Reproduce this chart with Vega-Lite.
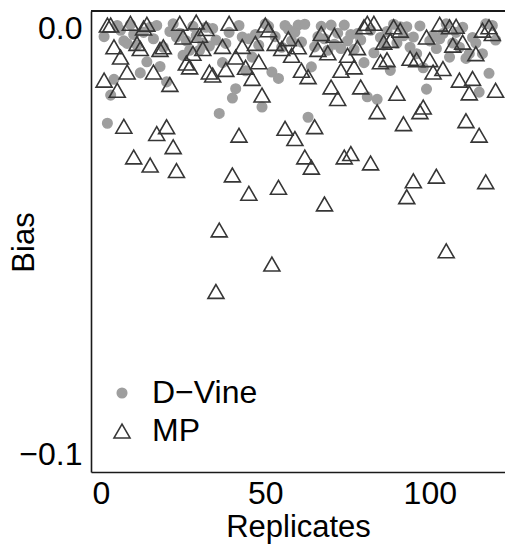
{
"$schema": "https://vega.github.io/schema/vega-lite/v6.json",
"width": 414, "height": 461,
"autosize": {"type": "none"},
"padding": {"left": 91, "top": 11, "right": 0, "bottom": 76},
"background": "white",
"config": {
  "view": {"stroke": null},
  "font": "Liberation Sans",
  "legend": {"orient": "none", "legendX": 15, "legendY": 366, "labelFontSize": 32, "labelFont": "Liberation Sans", "labelColor": "black", "rowPadding": 6, "labelOffset": 14, "padding": 0, "symbolStrokeWidth": 1.6, "labelLimit": 300}
},
"data": {"values": [
{"rep":1,"bias":-0.0020,"method":"D−Vine"},{"rep":2,"bias":-0.0223,"method":"D−Vine"},{"rep":3,"bias":-0.0157,"method":"D−Vine"},{"rep":4,"bias":-0.0120,"method":"D−Vine"},{"rep":5,"bias":0.0006,"method":"D−Vine"},{"rep":6,"bias":-0.0005,"method":"D−Vine"},{"rep":7,"bias":-0.0030,"method":"D−Vine"},{"rep":8,"bias":-0.0036,"method":"D−Vine"},{"rep":9,"bias":0.0008,"method":"D−Vine"},{"rep":10,"bias":-0.0015,"method":"D−Vine"},
{"rep":11,"bias":-0.0040,"method":"D−Vine"},{"rep":12,"bias":-0.0105,"method":"D−Vine"},{"rep":13,"bias":-0.0010,"method":"D−Vine"},{"rep":14,"bias":-0.0079,"method":"D−Vine"},{"rep":15,"bias":0.0002,"method":"D−Vine"},{"rep":16,"bias":-0.0025,"method":"D−Vine"},{"rep":17,"bias":0.0006,"method":"D−Vine"},{"rep":18,"bias":-0.0090,"method":"D−Vine"},{"rep":19,"bias":-0.0045,"method":"D−Vine"},{"rep":20,"bias":-0.0126,"method":"D−Vine"},
{"rep":21,"bias":-0.0008,"method":"D−Vine"},{"rep":22,"bias":0.0010,"method":"D−Vine"},{"rep":23,"bias":-0.0021,"method":"D−Vine"},{"rep":24,"bias":-0.0012,"method":"D−Vine"},{"rep":25,"bias":-0.0064,"method":"D−Vine"},{"rep":26,"bias":-0.0030,"method":"D−Vine"},{"rep":27,"bias":-0.0052,"method":"D−Vine"},{"rep":28,"bias":0.0004,"method":"D−Vine"},{"rep":29,"bias":-0.0018,"method":"D−Vine"},{"rep":30,"bias":-0.0052,"method":"D−Vine"},
{"rep":31,"bias":-0.0035,"method":"D−Vine"},{"rep":32,"bias":0.0002,"method":"D−Vine"},{"rep":33,"bias":-0.0042,"method":"D−Vine"},{"rep":34,"bias":-0.0001,"method":"D−Vine"},{"rep":35,"bias":-0.0028,"method":"D−Vine"},{"rep":36,"bias":-0.0200,"method":"D−Vine"},{"rep":37,"bias":-0.0081,"method":"D−Vine"},{"rep":38,"bias":-0.0036,"method":"D−Vine"},{"rep":39,"bias":-0.0010,"method":"D−Vine"},{"rep":40,"bias":-0.0164,"method":"D−Vine"},
{"rep":41,"bias":-0.0142,"method":"D−Vine"},{"rep":42,"bias":0.0006,"method":"D−Vine"},{"rep":43,"bias":-0.0021,"method":"D−Vine"},{"rep":44,"bias":-0.0100,"method":"D−Vine"},{"rep":45,"bias":-0.0025,"method":"D−Vine"},{"rep":46,"bias":-0.0068,"method":"D−Vine"},{"rep":47,"bias":-0.0015,"method":"D−Vine"},{"rep":48,"bias":-0.0040,"method":"D−Vine"},{"rep":49,"bias":-0.0185,"method":"D−Vine"},{"rep":50,"bias":0.0010,"method":"D−Vine"},
{"rep":51,"bias":0.0004,"method":"D−Vine"},{"rep":52,"bias":-0.0103,"method":"D−Vine"},{"rep":53,"bias":-0.0020,"method":"D−Vine"},{"rep":54,"bias":-0.0118,"method":"D−Vine"},{"rep":55,"bias":-0.0045,"method":"D−Vine"},{"rep":56,"bias":0.0006,"method":"D−Vine"},{"rep":57,"bias":-0.0003,"method":"D−Vine"},{"rep":58,"bias":-0.0030,"method":"D−Vine"},{"rep":59,"bias":-0.0010,"method":"D−Vine"},{"rep":60,"bias":0.0007,"method":"D−Vine"},
{"rep":61,"bias":-0.0033,"method":"D−Vine"},{"rep":62,"bias":0.0009,"method":"D−Vine"},{"rep":63,"bias":-0.0209,"method":"D−Vine"},{"rep":64,"bias":-0.0091,"method":"D−Vine"},{"rep":65,"bias":-0.0044,"method":"D−Vine"},{"rep":66,"bias":-0.0020,"method":"D−Vine"},{"rep":67,"bias":0.0004,"method":"D−Vine"},{"rep":68,"bias":-0.0025,"method":"D−Vine"},{"rep":69,"bias":-0.0052,"method":"D−Vine"},{"rep":70,"bias":0.0007,"method":"D−Vine"},
{"rep":71,"bias":-0.0038,"method":"D−Vine"},{"rep":72,"bias":-0.0012,"method":"D−Vine"},{"rep":73,"bias":-0.0048,"method":"D−Vine"},{"rep":74,"bias":0.0007,"method":"D−Vine"},{"rep":75,"bias":-0.0030,"method":"D−Vine"},{"rep":76,"bias":-0.0015,"method":"D−Vine"},{"rep":77,"bias":-0.0050,"method":"D−Vine"},{"rep":78,"bias":-0.0013,"method":"D−Vine"},{"rep":79,"bias":-0.0028,"method":"D−Vine"},{"rep":80,"bias":-0.0081,"method":"D−Vine"},
{"rep":81,"bias":-0.0161,"method":"D−Vine"},{"rep":82,"bias":-0.0005,"method":"D−Vine"},{"rep":83,"bias":-0.0058,"method":"D−Vine"},{"rep":84,"bias":-0.0167,"method":"D−Vine"},{"rep":85,"bias":-0.0022,"method":"D−Vine"},{"rep":86,"bias":-0.0040,"method":"D−Vine"},{"rep":87,"bias":-0.0008,"method":"D−Vine"},{"rep":88,"bias":-0.0099,"method":"D−Vine"},{"rep":89,"bias":0.0009,"method":"D−Vine"},{"rep":90,"bias":-0.0035,"method":"D−Vine"},
{"rep":91,"bias":0.0003,"method":"D−Vine"},{"rep":92,"bias":-0.0018,"method":"D−Vine"},{"rep":93,"bias":0.0003,"method":"D−Vine"},{"rep":94,"bias":-0.0045,"method":"D−Vine"},{"rep":95,"bias":-0.0021,"method":"D−Vine"},{"rep":96,"bias":-0.0060,"method":"D−Vine"},{"rep":97,"bias":0.0005,"method":"D−Vine"},{"rep":98,"bias":-0.0093,"method":"D−Vine"},{"rep":99,"bias":-0.0143,"method":"D−Vine"},{"rep":100,"bias":-0.0030,"method":"D−Vine"},
{"rep":101,"bias":-0.0017,"method":"D−Vine"},{"rep":102,"bias":-0.0048,"method":"D−Vine"},{"rep":103,"bias":-0.0025,"method":"D−Vine"},{"rep":104,"bias":-0.0013,"method":"D−Vine"},{"rep":105,"bias":0.0010,"method":"D−Vine"},{"rep":106,"bias":-0.0068,"method":"D−Vine"},{"rep":107,"bias":-0.0035,"method":"D−Vine"},{"rep":108,"bias":-0.0010,"method":"D−Vine"},{"rep":109,"bias":-0.0045,"method":"D−Vine"},{"rep":110,"bias":0.0002,"method":"D−Vine"},
{"rep":111,"bias":-0.0071,"method":"D−Vine"},{"rep":112,"bias":-0.0060,"method":"D−Vine"},{"rep":113,"bias":-0.0022,"method":"D−Vine"},{"rep":114,"bias":-0.0035,"method":"D−Vine"},{"rep":115,"bias":-0.0150,"method":"D−Vine"},{"rep":116,"bias":-0.0060,"method":"D−Vine"},{"rep":117,"bias":0.0010,"method":"D−Vine"},{"rep":118,"bias":-0.0106,"method":"D−Vine"},{"rep":119,"bias":0.0006,"method":"D−Vine"},{"rep":120,"bias":-0.0028,"method":"D−Vine"},
{"rep":1,"bias":-0.0122,"method":"MP"},{"rep":2,"bias":0.0007,"method":"MP"},{"rep":3,"bias":0.0007,"method":"MP"},{"rep":4,"bias":-0.0044,"method":"MP"},{"rep":5,"bias":-0.0146,"method":"MP"},{"rep":6,"bias":-0.0068,"method":"MP"},{"rep":7,"bias":-0.0230,"method":"MP"},{"rep":8,"bias":-0.0103,"method":"MP"},{"rep":9,"bias":0.0011,"method":"MP"},{"rep":10,"bias":-0.0302,"method":"MP"},
{"rep":11,"bias":-0.0036,"method":"MP"},{"rep":12,"bias":-0.0048,"method":"MP"},{"rep":13,"bias":0.0000,"method":"MP"},{"rep":14,"bias":0.0009,"method":"MP"},{"rep":15,"bias":-0.0321,"method":"MP"},{"rep":16,"bias":-0.0103,"method":"MP"},{"rep":17,"bias":-0.0247,"method":"MP"},{"rep":18,"bias":-0.0050,"method":"MP"},{"rep":19,"bias":-0.0044,"method":"MP"},{"rep":20,"bias":-0.0231,"method":"MP"},
{"rep":21,"bias":-0.0132,"method":"MP"},{"rep":22,"bias":-0.0278,"method":"MP"},{"rep":23,"bias":-0.0334,"method":"MP"},{"rep":24,"bias":0.0011,"method":"MP"},{"rep":25,"bias":-0.0021,"method":"MP"},{"rep":26,"bias":-0.0082,"method":"MP"},{"rep":27,"bias":-0.0091,"method":"MP"},{"rep":28,"bias":-0.0059,"method":"MP"},{"rep":29,"bias":0.0014,"method":"MP"},{"rep":30,"bias":-0.0017,"method":"MP"},
{"rep":31,"bias":-0.0048,"method":"MP"},{"rep":32,"bias":-0.0001,"method":"MP"},{"rep":33,"bias":-0.0103,"method":"MP"},{"rep":34,"bias":-0.0110,"method":"MP"},{"rep":35,"bias":-0.0617,"method":"MP"},{"rep":36,"bias":-0.0473,"method":"MP"},{"rep":37,"bias":-0.0043,"method":"MP"},{"rep":38,"bias":-0.0097,"method":"MP"},{"rep":39,"bias":0.0011,"method":"MP"},{"rep":40,"bias":-0.0344,"method":"MP"},
{"rep":41,"bias":-0.0068,"method":"MP"},{"rep":42,"bias":-0.0251,"method":"MP"},{"rep":43,"bias":-0.0043,"method":"MP"},{"rep":44,"bias":-0.0092,"method":"MP"},{"rep":45,"bias":-0.0387,"method":"MP"},{"rep":46,"bias":-0.0118,"method":"MP"},{"rep":47,"bias":-0.0036,"method":"MP"},{"rep":48,"bias":-0.0079,"method":"MP"},{"rep":49,"bias":-0.0157,"method":"MP"},{"rep":50,"bias":0.0007,"method":"MP"},
{"rep":51,"bias":-0.0004,"method":"MP"},{"rep":52,"bias":-0.0553,"method":"MP"},{"rep":53,"bias":-0.0036,"method":"MP"},{"rep":54,"bias":-0.0373,"method":"MP"},{"rep":55,"bias":-0.0048,"method":"MP"},{"rep":56,"bias":-0.0235,"method":"MP"},{"rep":57,"bias":-0.0025,"method":"MP"},{"rep":58,"bias":-0.0064,"method":"MP"},{"rep":59,"bias":-0.0259,"method":"MP"},{"rep":60,"bias":-0.0044,"method":"MP"},
{"rep":61,"bias":-0.0099,"method":"MP"},{"rep":62,"bias":-0.0302,"method":"MP"},{"rep":63,"bias":-0.0114,"method":"MP"},{"rep":64,"bias":-0.0326,"method":"MP"},{"rep":65,"bias":-0.0231,"method":"MP"},{"rep":66,"bias":-0.0050,"method":"MP"},{"rep":67,"bias":-0.0013,"method":"MP"},{"rep":68,"bias":-0.0412,"method":"MP"},{"rep":69,"bias":-0.0058,"method":"MP"},{"rep":70,"bias":-0.0138,"method":"MP"},
{"rep":71,"bias":-0.0017,"method":"MP"},{"rep":72,"bias":-0.0165,"method":"MP"},{"rep":73,"bias":-0.0099,"method":"MP"},{"rep":74,"bias":-0.0302,"method":"MP"},{"rep":75,"bias":-0.0064,"method":"MP"},{"rep":76,"bias":-0.0294,"method":"MP"},{"rep":77,"bias":-0.0091,"method":"MP"},{"rep":78,"bias":-0.0046,"method":"MP"},{"rep":79,"bias":-0.0138,"method":"MP"},{"rep":80,"bias":0.0003,"method":"MP"},
{"rep":81,"bias":0.0011,"method":"MP"},{"rep":82,"bias":-0.0316,"method":"MP"},{"rep":83,"bias":0.0011,"method":"MP"},{"rep":84,"bias":-0.0196,"method":"MP"},{"rep":85,"bias":-0.0079,"method":"MP"},{"rep":86,"bias":-0.0033,"method":"MP"},{"rep":87,"bias":-0.0074,"method":"MP"},{"rep":88,"bias":-0.0029,"method":"MP"},{"rep":89,"bias":0.0003,"method":"MP"},{"rep":90,"bias":-0.0153,"method":"MP"},
{"rep":91,"bias":-0.0005,"method":"MP"},{"rep":92,"bias":-0.0224,"method":"MP"},{"rep":93,"bias":-0.0395,"method":"MP"},{"rep":94,"bias":-0.0071,"method":"MP"},{"rep":95,"bias":-0.0358,"method":"MP"},{"rep":96,"bias":-0.0074,"method":"MP"},{"rep":97,"bias":-0.0196,"method":"MP"},{"rep":98,"bias":-0.0185,"method":"MP"},{"rep":99,"bias":-0.0021,"method":"MP"},{"rep":100,"bias":-0.0074,"method":"MP"},
{"rep":101,"bias":-0.0103,"method":"MP"},{"rep":102,"bias":-0.0347,"method":"MP"},{"rep":103,"bias":0.0009,"method":"MP"},{"rep":104,"bias":-0.0095,"method":"MP"},{"rep":105,"bias":-0.0522,"method":"MP"},{"rep":106,"bias":0.0003,"method":"MP"},{"rep":107,"bias":-0.0040,"method":"MP"},{"rep":108,"bias":0.0004,"method":"MP"},{"rep":109,"bias":-0.0122,"method":"MP"},{"rep":110,"bias":-0.0033,"method":"MP"},
{"rep":111,"bias":-0.0217,"method":"MP"},{"rep":112,"bias":-0.0152,"method":"MP"},{"rep":113,"bias":-0.0118,"method":"MP"},{"rep":114,"bias":-0.0060,"method":"MP"},{"rep":115,"bias":-0.0251,"method":"MP"},{"rep":116,"bias":-0.0005,"method":"MP"},{"rep":117,"bias":-0.0360,"method":"MP"},{"rep":118,"bias":0.0003,"method":"MP"},{"rep":119,"bias":-0.0013,"method":"MP"},{"rep":120,"bias":-0.0146,"method":"MP"}
]},
"layer": [
{
"mark": {"type": "point", "opacity": 1, "strokeWidth": 1.6},
"encoding": {
  "x": {"field": "rep", "type": "quantitative",
    "scale": {"domain": [-2.98, 122.86], "nice": false, "zero": false},
    "axis": {"values": [0, 50, 100], "title": "Replicates", "grid": false, "ticks": false, "domain": true, "domainColor": "#1a1a1a", "domainWidth": 1.6,
      "labelFontSize": 32, "labelFont": "Liberation Sans", "labelColor": "black", "labelPadding": 6, "labelFlush": false, "labelOverlap": false,
      "titleFontSize": 31, "titleFont": "Liberation Sans", "titleFontWeight": "normal", "titleColor": "black",
      "titleBaseline": "alphabetic", "titleX": 207, "titleY": 64, "titleAlign": "center"}},
  "y": {"field": "bias", "type": "quantitative",
    "scale": {"domain": [-0.104, 0.004], "nice": false, "zero": false},
    "axis": {"values": [-0.1, 0], "format": ".1f", "title": "Bias", "grid": false, "ticks": false, "domain": true, "domainColor": "#1a1a1a", "domainWidth": 1.6,
      "labelFontSize": 32, "labelFont": "Liberation Sans", "labelColor": "black", "labelPadding": 9, "labelFlush": false, "labelOverlap": false,
      "titleFontSize": 31, "titleFont": "Liberation Sans", "titleFontWeight": "normal", "titleColor": "black",
      "titleAngle": 270, "titleBaseline": "alphabetic", "titleX": -58, "titleY": 231, "titleAlign": "center"}},
  "shape": {"field": "method", "type": "nominal", "title": null, "scale": {"domain": ["D−Vine", "MP"], "range": ["circle", "triangle-up"]}},
  "fill": {"field": "method", "type": "nominal", "title": null, "scale": {"domain": ["D−Vine", "MP"], "range": ["#9e9e9e", "transparent"]}},
  "stroke": {"field": "method", "type": "nominal", "title": null, "scale": {"domain": ["D−Vine", "MP"], "range": ["#9e9e9e", "#363636"]}},
  "size": {"field": "method", "type": "nominal", "title": null, "scale": {"domain": ["D−Vine", "MP"], "range": [90, 256]}}
}
},
{
"mark": {"type": "rule", "color": "#1a1a1a", "strokeWidth": 1.6},
"encoding": {"y": {"datum": 0.004}}
}
]
}
